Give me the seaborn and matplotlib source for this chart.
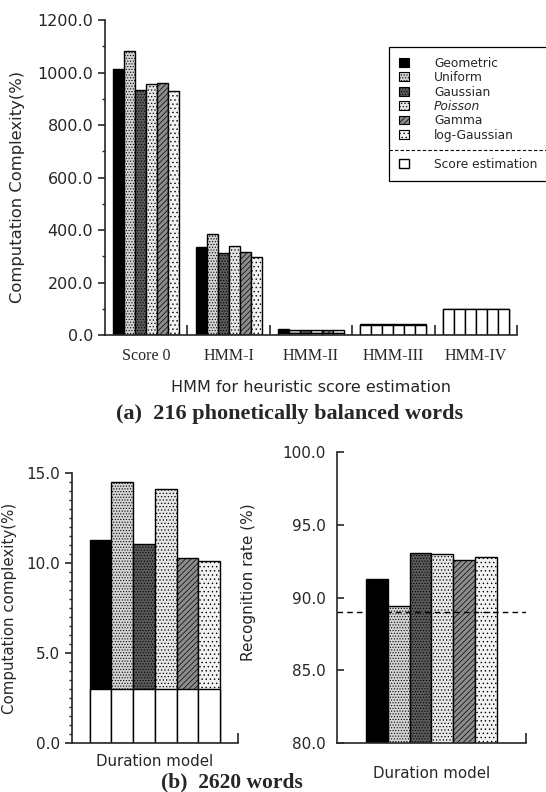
import pandas as pd
import seaborn as sns
import matplotlib.pyplot as plt
import matplotlib.patches as mpatches
from matplotlib.lines import Line2D
from matplotlib.ticker import MultipleLocator, FixedLocator, NullLocator
import numpy as np

# duration models and heuristic score estimators
models = ['Geometric', 'Uniform', 'Gaussian', 'Poisson', 'Gamma', 'log-Gaussian']
heuristics = ['Score 0', 'HMM-I', 'HMM-II', 'HMM-III', 'HMM-IV']

# (a) computation complexity (%) per heuristic, one value per duration model
score0_cc = [1012, 1083, 933, 955, 959, 928]
hmm1_cc = [336, 385, 311, 340, 315, 298]
hmm2_cc = [24, 21, 19, 21, 19, 19]
hmm3_cc = [42, 42, 42, 42, 42, 42]
hmm4_cc = [101, 101, 101, 101, 101, 101]
# part of it spent on score estimation (white)
score_est_a = [0, 0, 6, 40, 99]

# (b) 2620 words
complexity_b = [11.3, 14.5, 11.05, 14.15, 10.3, 10.13]
score_est_b = 3.0
recog_b = [91.3, 89.45, 93.1, 93.0, 92.6, 92.8]
baseline_rate = 89.0

colors = ['#000000', '#d4d4d4', '#5a5a5a', '#e6e6e6', '#8c8c8c', '#f2f2f2']
hatches = ['', '......', '......', '.....', '//////', '....']

sns.set_style('ticks')
plt.rcParams['font.family'] = ['DejaVu Sans']
plt.rcParams['hatch.linewidth'] = 0.5
plt.rcParams['axes.linewidth'] = 1.2

rows = []
for h, vals, se in zip(heuristics, [score0_cc, hmm1_cc, hmm2_cc, hmm3_cc, hmm4_cc], score_est_a):
    for m, v in zip(models, vals):
        rows.append({'heuristic': h, 'model': m, 'cc': v, 'se': se})
df_a = pd.DataFrame(rows)

df_b = pd.DataFrame({'x': 'Duration model', 'model': models,
                     'cc': complexity_b, 'se': score_est_b, 'rate': recog_b})

fig = plt.figure(figsize=(5.46, 7.92), dpi=100)
ax_a = fig.add_axes([0.1923, 0.577, 0.7546, 0.3977])
ax_bl = fig.add_axes([0.1313, 0.0622, 0.3046, 0.3402])
ax_br = fig.add_axes([0.6167, 0.0619, 0.3467, 0.3668])


def draw_bars(ax, data, x, y, width, white=None):
    sns.barplot(data=data, x=x, y=y, hue='model', hue_order=models, palette=colors,
                width=width, saturation=1, edgecolor='black', linewidth=1,
                legend=False, ax=ax)
    for cont, hp in zip(ax.containers, hatches):
        for p in cont:
            p.set_hatch(hp)
    if white is not None:
        sns.barplot(data=data, x=x, y=white, hue='model', hue_order=models,
                    palette=['white'] * 6, width=width, saturation=1,
                    edgecolor='black', linewidth=1, legend=False, ax=ax)


def style_axis(ax, n, size):
    sns.despine(ax=ax)
    ax.set_xlim(-0.5, n - 0.5)
    ax.xaxis.set_minor_locator(FixedLocator(np.arange(0.5, n, 1.0)))
    ax.tick_params(axis='x', which='major', length=0)
    ax.tick_params(axis='x', which='minor', direction='in', length=7, width=1.2)
    ax.tick_params(axis='y', which='major', direction='out', length=5, width=1.2, labelsize=size)
    ax.tick_params(axis='y', which='minor', direction='out', length=2.5, width=1)
    ax.yaxis.set_major_formatter(plt.FormatStrFormatter('%.1f'))


# (a)
draw_bars(ax_a, df_a, 'heuristic', 'cc', 0.8, white='se')
style_axis(ax_a, len(heuristics), 11.5)
ax_a.set_ylim(0, 1200)
ax_a.yaxis.set_major_locator(MultipleLocator(200))
ax_a.yaxis.set_minor_locator(MultipleLocator(100))
ax_a.tick_params(axis='x', which='major', pad=9)
for lab in ax_a.get_xticklabels():
    lab.set_family('Liberation Serif')
    lab.set_fontsize(11.5)
ax_a.set_xlabel('HMM for heuristic score estimation', fontsize=11.5, labelpad=12)
ax_a.set_ylabel('Computation Complexity(%)', fontsize=11.8)
ax_a.yaxis.set_label_coords(-0.195, 0.47)

handles = [mpatches.Patch(facecolor=c, hatch=hp, edgecolor='black', lw=0.8)
           for c, hp in zip(colors, hatches)]
handles.append(mpatches.Patch(facecolor='none', edgecolor='none'))
handles.append(mpatches.Patch(facecolor='white', edgecolor='black', lw=1))
labels = models + ['', 'Score estimation']
leg = ax_a.legend(handles, labels, loc='upper left', bbox_to_anchor=(0.69, 0.915),
                  fontsize=8.8, frameon=True, fancybox=False, edgecolor='black',
                  framealpha=1, handlelength=0.85, handleheight=0.7,
                  handletextpad=2.0, labelspacing=0.12, borderpad=0.8,
                  borderaxespad=0)
leg.get_frame().set_linewidth(0.9)
for t in leg.get_texts():
    if t.get_text() == 'Poisson':
        t.set_style('italic')

# (b) left: computation complexity
draw_bars(ax_bl, df_b, 'x', 'cc', 0.785, white='se')
style_axis(ax_bl, 1, 11)
ax_bl.set_xticks([])
ax_bl.set_ylim(0, 15)
ax_bl.yaxis.set_major_locator(MultipleLocator(5))
ax_bl.yaxis.set_minor_locator(MultipleLocator(0.5))
ax_bl.set_xlabel('Duration model', fontsize=10.8, labelpad=5)
ax_bl.set_ylabel('Computation complexity(%)', fontsize=10.8)
ax_bl.yaxis.set_label_coords(-0.33, 0.5)

# (b) right: recognition rate
draw_bars(ax_br, df_b, 'x', 'rate', 0.69)
style_axis(ax_br, 1, 11)
ax_br.set_xticks([])
ax_br.set_ylim(80, 100)
ax_br.yaxis.set_major_locator(MultipleLocator(5))
ax_br.yaxis.set_minor_locator(NullLocator())
ax_br.tick_params(axis='y', which='major', direction='in', pad=8)
ax_br.axhline(baseline_rate, color='black', ls=(0, (4, 3)), lw=1)
ax_br.set_xlabel('Duration model', fontsize=10.8, labelpad=13)
ax_br.set_ylabel('Recognition rate (%)', fontsize=11)
ax_br.yaxis.set_label_coords(-0.426, 0.555)

fig.text(0.531, 1 - 414 / 792, '(a)  216 phonetically balanced words', ha='center',
         va='center', fontsize=16, fontweight='bold', family='Liberation Serif')
fig.text(0.424, 1 - 782 / 792, '(b)  2620 words', ha='center', va='center',
         fontsize=15.5, fontweight='bold', family='Liberation Serif')

# dashed separator inside the legend
fig.canvas.draw()
texts = leg.get_texts()
y5 = texts[5].get_window_extent().y0 + texts[5].get_window_extent().height / 2
y7 = texts[7].get_window_extent().y0 + texts[7].get_window_extent().height / 2
fb = leg.get_frame().get_window_extent()
inv = fig.transFigure.inverted()
(x0, ym), (x1, _) = inv.transform([(fb.x0, (y5 + y7) / 2), (fb.x1, (y5 + y7) / 2)])
fig.add_artist(Line2D([x0, x1], [ym, ym], transform=fig.transFigure,
                      color='black', ls=(0, (3, 2)), lw=0.8))

plt.savefig('out.png', dpi=100)
